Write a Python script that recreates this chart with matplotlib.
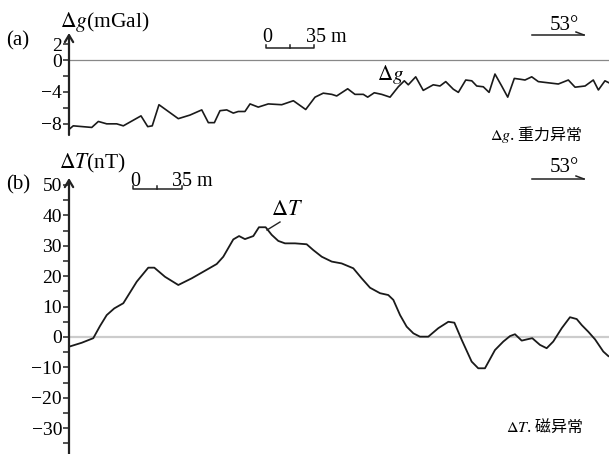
import matplotlib
matplotlib.use("Agg")
import matplotlib.pyplot as plt
from matplotlib.lines import Line2D

plt.rcParams['font.family'] = ['Liberation Serif', 'DejaVu Serif']
plt.rcParams['mathtext.fontset'] = 'stix'

W, H = 609, 454

# gravity profile (distance in m, mGal)
g_dist = [0, 3.1, 16.6, 21.4, 27.5, 34.8, 39.6, 52.5, 57.4, 60.7, 65.6, 79.7, 88.2,
          96.8, 101.6, 106.0, 110.1, 115.0, 119.8, 123.4, 128.3, 132.0, 138.0, 145.3,
          155.1, 163.6, 172.6, 179.4, 185.4, 191.6, 195.2, 203.2, 208.5, 214.6, 217.8,
          222.6, 228.0, 234.1, 240.1, 244.5, 247.4, 252.8, 258.3, 265.6, 270.5, 274.7,
          280.2, 283.9, 289.3, 293.7, 297.3, 302.1, 306.3, 310.6, 315.5, 319.9, 324.7,
          328.9, 332.5, 337.4, 342.2, 356.8, 364.1, 369.0, 376.3, 382.3, 386.0, 390.8,
          393.75]
g_val = [-8.7, -8.25, -8.45, -7.7, -8.0, -8.0, -8.25, -7.0, -8.35, -8.25, -5.6, -7.35,
         -6.9, -6.25, -7.85, -7.85, -6.35, -6.25, -6.65, -6.45, -6.45, -5.5, -5.9, -5.5,
         -5.6, -5.1, -6.2, -4.65, -4.15, -4.3, -4.5, -3.6, -4.3, -4.3, -4.65, -4.1, -4.3,
         -4.65, -3.35, -2.6, -3.1, -2.1, -3.8, -3.1, -3.25, -2.7, -3.65, -4.05, -2.5,
         -2.6, -3.25, -3.35, -4.05, -1.75, -3.25, -4.65, -2.3, -2.4, -2.5, -2.1, -2.7,
         -3.0, -2.5, -3.4, -3.25, -2.5, -3.75, -2.6, -2.85]

# magnetic profile (distance in m, nT)
t_dist = [0, 9.3, 17.7, 22.6, 27.5, 33.0, 39.6, 49.4, 57.8, 62.2, 70.0, 79.7, 89.5,
          99.2, 107.7, 112.5, 119.8, 124.0, 128.3, 134.4, 138.5, 143.4, 147.8, 152.6,
          157.5, 164.8, 173.3, 178.1, 184.3, 191.6, 198.8, 207.3, 213.4, 219.5, 226.8,
          232.8, 236.5, 241.4, 246.2, 251.1, 255.9, 262.0, 269.3, 276.6, 281.0, 286.4,
          293.6, 298.4, 303.3, 310.6, 316.7, 321.6, 325.2, 330.1, 333.8, 337.8, 343.4,
          348.3, 353.1, 359.3, 365.3, 370.2, 373.9, 378.7, 383.6, 389.6, 393.3]
t_val = [-3.2, -1.9, -0.4, 3.6, 7.2, 9.4, 11.1, 18.2, 22.8, 22.8, 19.8, 17.1, 19.3,
         21.8, 24.0, 26.4, 32.1, 33.2, 32.2, 33.2, 36.1, 36.1, 33.6, 31.6, 30.8, 30.8,
         30.5, 28.6, 26.4, 24.8, 24.2, 22.6, 19.3, 16.2, 14.4, 13.8, 12.2, 7.2, 3.4, 1.2,
         0.1, 0.1, 2.9, 5.0, 4.7, -1.0, -8.1, -10.3, -10.3, -4.3, -1.5, 0.3, 0.9, -1.2,
         -0.8, -0.4, -2.6, -3.7, -1.5, 2.9, 6.5, 5.9, 3.9, 1.7, -0.8, -4.8, -6.3]

g_ticks = [2, 0, -2, -4, -6, -8]
g_labels = ['2', '0', '', '\u22124', '', '\u22128']
t_ticks = list(range(50, -40, -5))
t_labels = [('\u2212' + str(-v) if v < 0 else str(v)) if v % 10 == 0 else '' for v in t_ticks]


def fx(px):
    return px / W


def fy(py):
    return 1 - py / H


fig = plt.figure(figsize=(W / 100, H / 100), dpi=100)


def make_axes(top, bottom, ylim, ticks, labels, fs):
    ax = fig.add_axes([fx(69), fy(bottom), fx(609) - fx(69), fy(top) - fy(bottom)])
    ax.set_xlim(0, 393.75)
    ax.set_ylim(*ylim)
    for s in ax.spines.values():
        s.set_visible(False)
    ax.set_xticks([])
    ax.set_yticks(ticks)
    ax.set_yticklabels(labels, fontsize=fs)
    ax.tick_params(axis='y', length=4, width=1.2, pad=1, color='#333333')
    ax.annotate('', xy=(0, 1), xytext=(0, 0), xycoords='axes fraction',
                arrowprops=dict(arrowstyle='->,head_length=0.5,head_width=0.3',
                                lw=1.6, color='#222222', shrinkA=0, shrinkB=0))
    ax.patch.set_visible(False)
    return ax


ax1 = make_axes(33, 135, (-9.4, 3.4), g_ticks, g_labels, 14)
ax1.axhline(0, color='#888888', lw=0.9)
ax1.plot(g_dist, g_val, color='#1a1a1a', lw=1.2)

ax2 = make_axes(178, 454, (-38.5, 52.3), t_ticks, t_labels, 14)
ax2.axhline(0, color='#cccccc', lw=1.6)
ax2.plot(t_dist, t_val, color='#1a1a1a', lw=1.3)


def ftext(px, py, s, **kw):
    fig.text(fx(px), fy(py), s, va='center', **kw)


def fline(xs, ys, **kw):
    fig.add_artist(Line2D([fx(x) for x in xs], [fy(y) for y in ys], **kw))


# panel (a) labels
ftext(6, 41, '(a)', fontsize=15)
ftext(60, 22, r'$\Delta g$(mGal)', fontsize=15.5)
ftext(377, 75, r'$\Delta g$', fontsize=15)
ftext(490, 134, r'$\Delta g$. 重力异常', fontsize=11.5,
      family=['Noto Sans CJK SC', 'DejaVu Sans'])
# scale bar (a)
ftext(262, 37, '0', fontsize=14.5)
ftext(306, 37, '35 m', fontsize=14.5)
fline([266, 266, 314, 314], [45, 48, 48, 45], color='#222222', lw=1.1)
fline([290, 290], [48, 45], color='#222222', lw=1.1)
# north arrow (a)
ftext(550, 25, '53°', fontsize=15)
fline([532, 584], [35, 35], color='#222222', lw=1.1)
fline([576, 584], [32, 35], color='#222222', lw=1.1)

# panel (b) labels
ftext(6, 185, '(b)', fontsize=15)
ftext(59, 163, r'$\Delta T$(nT)', fontsize=15.5)
ftext(271, 211, r'$\Delta T$', fontsize=16)
fline([267, 280], [230, 222], color='#222222', lw=1.0)
ftext(506, 427, r'$\Delta T$. 磁异常', fontsize=11.5,
      family=['Noto Sans CJK SC', 'DejaVu Sans'])
# scale bar (b)
ftext(130, 182, '0', fontsize=14.5)
ftext(172, 182, '35 m', fontsize=14.5)
fline([133, 133, 182, 182], [186, 189, 189, 186], color='#222222', lw=1.1)
fline([157, 157], [189, 186], color='#222222', lw=1.1)
# north arrow (b)
ftext(550, 168, '53°', fontsize=15)
fline([532, 584], [179, 179], color='#222222', lw=1.1)
fline([576, 584], [176, 179], color='#222222', lw=1.1)

fig.savefig('out.png', dpi=100)
